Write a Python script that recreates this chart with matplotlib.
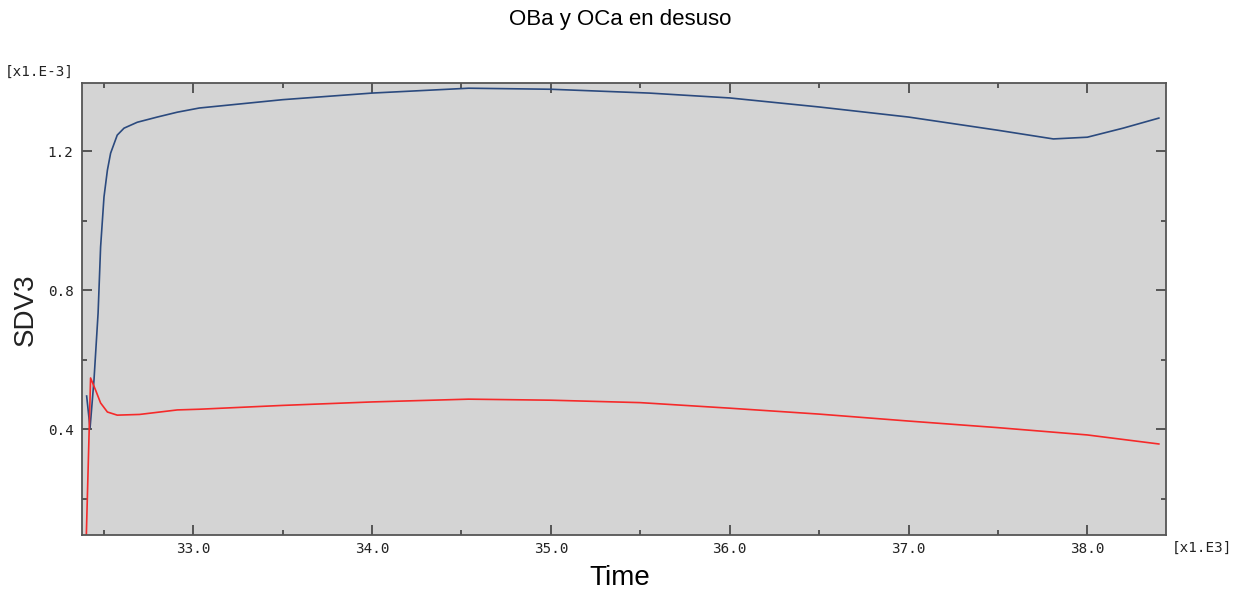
import matplotlib
matplotlib.use("Agg")
import matplotlib.pyplot as plt
from matplotlib.ticker import MultipleLocator, FormatStrFormatter

# time in units of 1e3, SDV3 in units of 1e-3
t_oba = [32.404, 32.423, 32.445, 32.468, 32.482, 32.501, 32.520, 32.538, 32.575,
         32.613, 32.687, 32.799, 32.911, 33.034, 33.5, 34.0, 34.54, 35.0, 35.55,
         36.0, 36.5, 37.0, 37.5, 37.81, 38.0, 38.2, 38.4]
sdv_oba = [0.495, 0.403, 0.541, 0.734, 0.924, 1.068, 1.145, 1.194, 1.246,
           1.266, 1.283, 1.298, 1.312, 1.324, 1.348, 1.367, 1.381, 1.378, 1.367,
           1.353, 1.327, 1.298, 1.260, 1.235, 1.240, 1.266, 1.295]

t_oca = [32.402, 32.426, 32.454, 32.482, 32.520, 32.575, 32.7, 32.911, 33.034,
         33.5, 34.0, 34.54, 35.0, 35.5, 36.0, 36.5, 37.0, 37.5, 38.0, 38.4]
sdv_oca = [0.09, 0.547, 0.512, 0.475, 0.449, 0.440, 0.442, 0.455, 0.457,
           0.468, 0.478, 0.486, 0.483, 0.476, 0.460, 0.443, 0.423, 0.404, 0.383, 0.357]

fig = plt.figure(figsize=(12.4, 5.94), dpi=100)
ax = fig.add_axes([82/1240, 59/594, 1084/1240, 452/594])
ax.set_facecolor('#d4d4d4')

ax.plot(t_oba, sdv_oba, color='#2b4a7e', lw=1.2)
ax.plot(t_oca, sdv_oca, color='#f52a2a', lw=1.2)

ax.set_xlim(32.378, 38.44)
ax.set_ylim(0.095, 1.396)

ax.xaxis.set_major_locator(MultipleLocator(1.0))
ax.xaxis.set_minor_locator(MultipleLocator(0.5))
ax.yaxis.set_major_locator(MultipleLocator(0.4))
ax.yaxis.set_minor_locator(MultipleLocator(0.2))
ax.xaxis.set_major_formatter(FormatStrFormatter('%.1f'))
ax.yaxis.set_major_formatter(FormatStrFormatter('%.1f'))

ax.tick_params(which='both', direction='in', top=True, right=True,
               color='#404040', width=1.2, labelcolor='#222222')
ax.tick_params(which='major', length=7, labelsize=10.3)
ax.tick_params(axis='x', which='major', pad=5)
ax.tick_params(axis='y', which='major', pad=6)
ax.tick_params(which='minor', length=3.5)
for lab in ax.get_xticklabels() + ax.get_yticklabels():
    lab.set_family('DejaVu Sans Mono')
for sp in ax.spines.values():
    sp.set_color('#555555')
    sp.set_linewidth(1.3)

fig.text(0.5, 1 - 20/594, 'OBa y OCa en desuso', ha='center', va='center',
         fontsize=16, family='Liberation Sans')
fig.text(620/1240, 1 - 578/594, 'Time', ha='center', va='center',
         fontsize=20, family='Liberation Sans')
fig.text(26/1240, 1 - 310/594, 'SDV3', ha='center', va='center', rotation=90,
         fontsize=20, family='Liberation Sans', color='#222222')
fig.text(5/1240, 1 - 72/594, '[x1.E-3]', ha='left', va='center',
         fontsize=10.3, family='DejaVu Sans Mono', color='#222222')
fig.text(1172/1240, 1 - 548/594, '[x1.E3]', ha='left', va='center',
         fontsize=10.3, family='DejaVu Sans Mono', color='#222222')

fig.savefig('out.png', dpi=100)
